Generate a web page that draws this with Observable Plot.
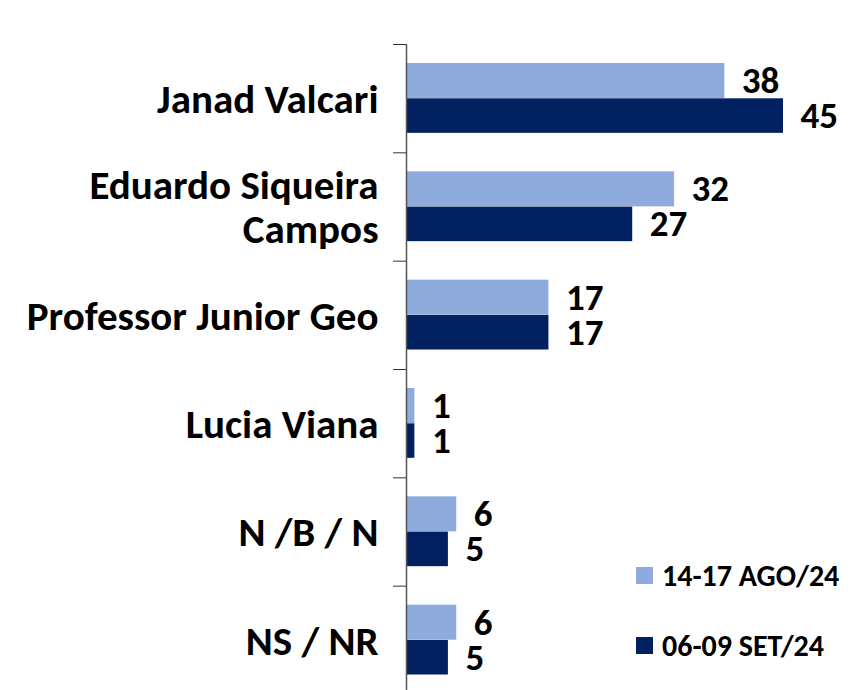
<!DOCTYPE html>
<html>
<head>
<meta charset="utf-8">
<script src="https://cdn.jsdelivr.net/npm/d3@7"></script>
<script src="https://cdn.jsdelivr.net/npm/@observablehq/plot@0.6"></script>
<style>
  html, body { margin: 0; padding: 0; background: #fff; }
  #wrap { position: relative; width: 855px; height: 690px; overflow: hidden; }
  .leg { position: absolute; left: 636px; display: flex; align-items: center;
         font-family: Carlito, Lato, sans-serif; font-weight: 700; font-size: 30px; color: #000; }
  .leg span.sw { display: inline-block; width: 17px; height: 17px; margin-right: 9px; }
</style>
</head>
<body>
<div id="wrap"></div>
<script>
const categories = ["Janad Valcari", "Eduardo Siqueira\nCampos", "Professor Junior Geo", "Lucia Viana", "N /B / N", "NS / NR"];
const seriesNames = ["14-17 AGO/24", "06-09 SET/24"];
const augValues = [38, 32, 17, 1, 6, 6];
const sepValues = [45, 27, 17, 1, 5, 5];
const colors = ["#8FAADC", "#002060"];

const data = [];
categories.forEach((c, i) => {
  data.push({cat: c, i, series: seriesNames[0], value: augValues[i]});
  data.push({cat: c, i, series: seriesNames[1], value: sepValues[i]});
});
const aug = data.filter(d => d.series === seriesNames[0]);
const sep = data.filter(d => d.series === seriesNames[1]);

const font = "Carlito, Lato, sans-serif";

const chart = Plot.plot({
  width: 855,
  height: 690,
  marginLeft: 406,
  marginRight: 72,
  marginTop: 44,
  marginBottom: -4,
  style: {fontFamily: font, fontWeight: 700, color: "#000", background: "#fff", overflow: "visible"},
  x: {domain: [0, 45], axis: null},
  y: {domain: [0, categories.length], reverse: true, axis: null},
  color: {domain: seriesNames, range: colors},
  marks: [
    Plot.rect(aug, {x1: 0, x2: "value", y1: "i", y2: d => d.i + 1, fill: "series", insetTop: 19, insetBottom: 54.3}),
    Plot.rect(sep, {x1: 0, x2: "value", y1: "i", y2: d => d.i + 1, fill: "series", insetTop: 54.3, insetBottom: 19.5}),
    Plot.text(aug, {x: "value", y: d => d.i + 0.5, text: d => String(d.value), dx: 17, dy: -17.5, textAnchor: "start", fontSize: 37, fontWeight: 700, fill: "#000"}),
    Plot.text(sep, {x: "value", y: d => d.i + 0.5, text: d => String(d.value), dx: 17, dy: 17.5, textAnchor: "start", fontSize: 37, fontWeight: 700, fill: "#000"}),
    Plot.axisY({ticks: d3.range(0, categories.length + 1), tickFormat: () => "", tickSize: 13, label: null, stroke: "#333", strokeWidth: 1}),
    Plot.axisY({ticks: d3.range(categories.length).map(i => i + 0.5), tickFormat: t => categories[Math.floor(t)], tickSize: 0, tickPadding: 28, label: null, fontSize: 41, fontWeight: 700, lineHeight: 1.08, fill: "#000"}),
    Plot.ruleX([0], {stroke: "#555", strokeWidth: 1.5})
  ]
});
const wrap = document.getElementById("wrap");
wrap.appendChild(chart);

const legTops = [566, 636];
seriesNames.forEach((s, k) => {
  const row = document.createElement("div");
  row.className = "leg";
  row.style.top = legTops[k] + "px";
  row.style.height = "19px";
  const sw = document.createElement("span");
  sw.className = "sw";
  sw.style.background = colors[k];
  row.appendChild(sw);
  row.appendChild(document.createTextNode(s));
  wrap.appendChild(row);
});
</script>
</body>
</html>
